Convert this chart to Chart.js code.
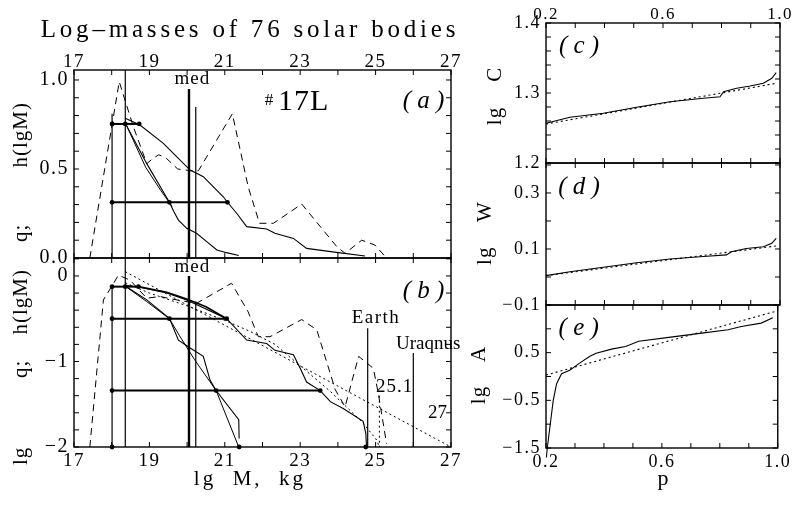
<!DOCTYPE html>
<html>
<head>
<meta charset="utf-8">
<script src="https://cdn.jsdelivr.net/npm/chart.js@4.4.0/dist/chart.umd.min.js"></script>
<style>
  body { margin: 0; background: #fff; width: 792px; height: 505px; position: relative; overflow: hidden; }
  canvas { position: absolute; left: 0; top: 0; }
  .t { position: absolute; font-family: 'Liberation Serif', serif; white-space: pre; line-height: 1; color: #000; }
  .c { transform: translateX(-50%); }
  .r { transform: translate(-50%, -50%) rotate(-90deg); }
</style>
</head>
<body>
<canvas id="pa" width="792" height="505"></canvas>
<canvas id="pb" width="792" height="505"></canvas>
<canvas id="pc" width="792" height="505"></canvas>
<canvas id="pd" width="792" height="505"></canvas>
<canvas id="pe" width="792" height="505"></canvas>

<div class="t c" style="left:250px;top:16px;font-size:25px;letter-spacing:3.8px">Log–masses of 76 solar bodies</div>
<div class="t c" style="left:250px;top:468px;font-size:21px;letter-spacing:3px">lg  M,  kg</div>
<div class="t c" style="left:663px;top:467px;font-size:22px">p</div>
<div class="t r" style="left:20px;top:172px;font-size:21px;letter-spacing:1px">q;         h(lgM)</div>
<div class="t r" style="left:20px;top:367px;font-size:21px;letter-spacing:1px">lg           q;    h(lgM)</div>
<div class="t r" style="left:494px;top:96px;font-size:21px;letter-spacing:1px">lg    C</div>
<div class="t r" style="left:484px;top:233px;font-size:21px;letter-spacing:1px">lg    W</div>
<div class="t r" style="left:478px;top:375px;font-size:21px;letter-spacing:1px">lg    A</div>

<script>
Chart.defaults.font.family = "'Liberation Serif', serif";
Chart.defaults.color = '#000';

// tick labels
const massTicks = [17, 19, 21, 23, 25, 27];
const qTicks = [0, 0.5, 1.0];
const lgqTicks = [0, -1, -2];
const pTicks = [0.2, 0.6, 1.0];
const cTicks = [1.2, 1.3, 1.4];
const wTicks = [-0.1, 0.1, 0.3];
const aTicks = [-1.5, -0.5, 0.5];

// (a) h and q against lg M
const hA = [[17.42, 0], [18.2, 0.99], [18.57, 0.74], [18.93, 0.53], [19.1, 0.56], [19.25, 0.58], [19.45, 0.56],
  [19.75, 0.5], [20.1, 0.49], [20.3, 0.49], [21.2, 0.81], [21.62, 0.4], [21.92, 0.195], [22.29, 0.195],
  [23.04, 0.303], [23.97, 0.064], [24.19, 0.026], [24.63, 0.1], [24.98, 0.073], [25.29, 0]];
const qSteepA = [[18.36, 0.757], [18.93, 0.53], [19.53, 0.313], [19.65, 0.26], [19.77, 0.213], [19.99, 0.167],
  [20.25, 0.139], [20.52, 0.092], [20.79, 0.045], [21.05, 0.03], [21.37, 0.014]];
const qFitA = [[18.36, 0.76], [18.9, 0.51], [19.3, 0.38], [19.6, 0.29]];
const qFlatA = [[18.36, 0.785], [18.75, 0.747], [19.37, 0.644], [20.08, 0.494], [20.43, 0.457], [20.96, 0.344],
  [21.07, 0.313], [21.32, 0.25], [21.58, 0.176], [22.11, 0.163], [22.33, 0.139], [22.82, 0.11], [23.17, 0.054],
  [24.01, 0.03], [24.72, 0.011]];
const levelsA = [[0.753, 18.01, 18.73], [0.313, 18.01, 21.07]];
const levelDotsA = [[18.01, 0.753], [18.36, 0.753], [18.73, 0.753], [18.01, 0.313], [19.53, 0.313], [21.07, 0.313]];
const marksA = [[18.01, 0, 0.81], [18.36, 0, 1.056], [20.23, 0, 0.848]];
const medA = [20.05, 0, 0.949];

// (b) lg h and lg q against lg M
const hB = [[17.42, -2], [17.78, -0.28], [18.18, 0.01], [18.49, -0.05], [18.93, -0.26], [19.28, -0.24], [19.6, -0.27],
  [20.25, -0.32], [21.18, -0.085], [21.62, -0.42], [21.89, -0.71], [22.2, -0.71], [23.04, -0.51], [23.44, -0.63],
  [23.93, -1.33], [24.19, -1.53], [24.55, -0.94], [24.94, -1.08], [25.07, -1.37], [25.29, -1.96]];
const qSteepB = [[18.36, -0.117], [18.93, -0.28], [19.53, -0.495], [19.77, -0.75], [20.04, -0.83], [20.43, -0.94],
  [20.61, -1.22], [20.77, -1.34], [21.37, -1.68], [21.38, -1.9]];
const qFitB = [[18.36, -0.12], [18.93, -0.3], [19.53, -0.5], [19.8, -0.7], [20.2, -0.98], [20.77, -1.34], [21.37, -2.0]];
const qFlatB = [[18.36, -0.11], [18.71, -0.13], [19.46, -0.2], [19.99, -0.28], [21.05, -0.5], [21.58, -0.75],
  [22.11, -0.79], [22.33, -0.87], [22.82, -0.92], [23.0, -1.08], [23.17, -1.24], [23.53, -1.34], [23.8, -1.47],
  [24.14, -1.55], [24.67, -1.7], [24.74, -1.84], [24.76, -2.0]];
const qBoldB = [[18.71, -0.125], [19.46, -0.19], [19.99, -0.27], [20.5, -0.36], [21.05, -0.5]];
const fitLineB = [[18.36, 0.05], [27, -2.0]];
const fitCurveB = [[18.36, -0.08], [19.0, -0.2], [20.0, -0.35], [21.0, -0.52], [21.68, -0.65], [22.33, -0.8],
  [23.0, -1.05], [23.8, -1.35], [24.67, -1.72], [25.03, -1.92], [25.1, -2.0]];
const cutB = [[25.1, -1.4], [25.1, -2.0]];
const levelsB = [[-0.125, 18.01, 18.71], [-0.5, 18.01, 21.05], [-1.34, 18.01, 23.53]];
const levelDotsB = [[18.01, -0.125], [18.36, -0.125], [18.71, -0.125], [18.01, -0.5], [19.53, -0.5], [21.05, -0.5],
  [18.01, -1.34], [20.77, -1.34], [23.53, -1.34], [18.01, -2], [21.38, -2], [24.74, -2]];
const marksB = [[18.01, -2, -0.125], [18.36, -2, 0.21], [20.23, -2, -0.3], [24.79, -2, -0.61], [26.0, -2, -0.9]];
const medB = [20.05, -2, 0];

// (c), (d), (e) against p
const cSolid = [[0.2, 1.2567], [0.282, 1.2653], [0.396, 1.271], [0.51, 1.2796], [0.624, 1.2876], [0.738, 1.2924],
  [0.795, 1.2947], [0.807, 1.3019], [0.852, 1.3067], [0.898, 1.31], [0.943, 1.3139], [0.972, 1.321], [0.987, 1.329]];
const cDot = [[0.2, 1.2557], [0.99, 1.314]];
const wSolid = [[0.2, 0.005], [0.282, 0.019], [0.396, 0.035], [0.51, 0.051], [0.624, 0.064], [0.738, 0.073],
  [0.817, 0.079], [0.834, 0.09], [0.885, 0.102], [0.943, 0.108], [0.972, 0.12], [0.987, 0.138]];
const wDot = [[0.2, 0.005], [0.99, 0.111]];
const aSolid = [[0.2015, -1.7], [0.2044, -1.5], [0.2137, -1.05], [0.225, -0.5], [0.2366, -0.15], [0.2537, 0.06],
  [0.282, 0.13], [0.316, 0.28], [0.35, 0.42], [0.373, 0.49], [0.43, 0.58], [0.475, 0.63], [0.52, 0.74],
  [0.624, 0.82], [0.738, 0.91], [0.829, 0.98], [0.874, 1.05], [0.943, 1.12], [0.983, 1.23]];
const aDot = [[0.2, 0.03], [1.0, 1.38]];

const DASH = [7, 5];
const DOT = [2, 3];

const pts = a => a.map(([x, y]) => ({x, y}));
function curve(a, w, dash, clip) {
  return {data: pts(a), showLine: true, pointRadius: 0, borderColor: '#000', borderWidth: w || 1,
    borderDash: dash || [], clip: clip === undefined ? 2 : clip};
}
function dots(a) {
  return {data: pts(a), showLine: false, pointRadius: 2.4, pointBackgroundColor: '#000', pointBorderWidth: 0, clip: 4};
}
const vlines = (a, w) => a.map(([x, y0, y1]) => curve([[x, y0], [x, y1]], w));
const hlines = (a, w) => a.map(([y, x0, x1]) => curve([[x0, y], [x1, y]], w));

// wider spacing for the tick labels, like the old plotter font
const spacing = {
  id: 'spacing',
  beforeDraw(chart) { chart.ctx.letterSpacing = '1.5px'; }
};

// frame with inward tick marks on all four sides
const frame = {
  id: 'frame',
  afterDatasetsDraw(chart, args, o) {
    const {ctx, chartArea: a, scales: {x, y}} = chart;
    const at = (s, step) => {
      const out = [];
      for (let i = Math.ceil(s.min / step - 1e-6); i * step <= s.max + 1e-9; i++) out.push(s.getPixelForValue(i * step));
      return out;
    };
    ctx.save();
    ctx.strokeStyle = '#000';
    ctx.lineWidth = 1.4;
    ctx.strokeRect(a.left, a.top, a.right - a.left, a.bottom - a.top);
    ctx.lineWidth = 1;
    ctx.beginPath();
    for (const px of at(x, o.xStep)) {
      ctx.moveTo(px, a.bottom); ctx.lineTo(px, a.bottom - o.len);
      ctx.moveTo(px, a.top); ctx.lineTo(px, a.top + o.len);
    }
    for (const py of at(y, o.yStep)) {
      ctx.moveTo(a.left, py); ctx.lineTo(a.left + o.len, py);
      ctx.moveTo(a.right, py); ctx.lineTo(a.right - o.len, py);
    }
    ctx.stroke();
    ctx.restore();
  }
};

// text placed in data coordinates
const notes = {
  id: 'notes',
  afterDatasetsDraw(chart, args, o) {
    const {ctx, scales: {x, y}} = chart;
    ctx.save();
    ctx.fillStyle = '#000';
    ctx.textBaseline = 'middle';
    for (const n of o.items) {
      ctx.font = n.f;
      ctx.textAlign = n.al || 'center';
      ctx.letterSpacing = n.ls || '0px';
      ctx.fillText(n.s, x.getPixelForValue(n.x), y.getPixelForValue(n.y));
    }
    ctx.restore();
  }
};

function labelAxis(vals, dec, size, pad, dim, box) {
  return {
    bounds: 'data',
    grid: {display: false, drawTicks: false},
    border: {display: false},
    afterBuildTicks: s => { s.ticks = vals.map(v => ({value: v})); },
    afterFit: s => { s[dim] = box; },
    ticks: {font: {size}, color: '#000', padding: pad, maxRotation: 0, autoSkip: false,
      callback: v => v.toFixed(dec).replace('-', '\u2212')}
  };
}

function panel(id, area, xr, yr, ax, datasets, items, steps) {
  const [L, T, R, B] = area;
  const pad = {left: L, top: T, right: 792 - R, bottom: 505 - B};
  const scales = {
    x: {type: 'linear', min: xr[0], max: xr[1], display: false},
    y: {type: 'linear', min: yr[0], max: yr[1], display: false}
  };
  if (ax.left) {
    scales.y = Object.assign({type: 'linear', min: yr[0], max: yr[1], position: 'left'},
      labelAxis(ax.left.v, ax.left.d, ax.left.fs, 5, 'width', 44));
    pad.left -= 44;
  }
  if (ax.bottom) {
    scales.x = Object.assign({type: 'linear', min: xr[0], max: xr[1], position: 'bottom'},
      labelAxis(ax.bottom.v, ax.bottom.d, ax.bottom.fs, 3, 'height', 24));
    pad.bottom -= 24;
  }
  if (ax.top) {
    scales.xt = Object.assign({type: 'linear', min: xr[0], max: xr[1], position: 'top'},
      labelAxis(ax.top.v, ax.top.d, ax.top.fs, ax.top.p, 'height', 22));
    pad.top -= 22;
  }
  return new Chart(document.getElementById(id), {
    type: 'scatter',
    data: {datasets},
    options: {
      responsive: false,
      animation: false,
      devicePixelRatio: 1,
      layout: {padding: pad},
      scales,
      plugins: {
        legend: {display: false},
        tooltip: {enabled: false},
        frame: Object.assign({len: 5}, steps),
        notes: {items}
      }
    },
    plugins: [spacing, frame, notes]
  });
}

const F = "'Liberation Serif', serif";

panel('pa', [74, 70, 451, 258], [17, 27], [0, 1.056],
  {left: {v: qTicks, d: 1, fs: 20}, top: {v: massTicks, d: 0, fs: 19, p: -3}},
  [
    curve(hA, 1, DASH),
    curve(qSteepA, 1.1), curve(qFitA, 1), curve(qFlatA, 1.1),
    ...hlines(levelsA, 2), dots(levelDotsA),
    ...vlines(marksA, 1.2), curve([[medA[0], medA[1]], [medA[0], medA[2]]], 2.4)
  ],
  [
    {s: 'med', x: 20.14, y: 1.006, f: '19px ' + F, ls: '1px'},
    {s: '#', x: 22.17, y: 0.885, f: '17px ' + F},
    {s: '17L', x: 22.41, y: 0.875, f: '30px ' + F, al: 'left', ls: '1px'},
    {s: '( a )', x: 26.27, y: 0.882, f: 'italic 25px ' + F}
  ],
  {xStep: 1, yStep: 0.1});

panel('pb', [74, 258, 451, 447], [17, 27], [-2, 0.21],
  {left: {v: lgqTicks, d: 0, fs: 20}, bottom: {v: massTicks, d: 0, fs: 19}},
  [
    curve(hB, 1, DASH),
    curve(fitLineB, 1, DOT), curve(fitCurveB, 1, DOT), curve(cutB, 1, DOT),
    curve(qSteepB, 1.1), curve(qFitB, 1), curve(qFlatB, 1.1), curve(qBoldB, 1.7),
    ...hlines(levelsB, 2), dots(levelDotsB),
    ...vlines(marksB, 1.2), curve([[medB[0], medB[1]], [medB[0], medB[2]]], 2.4)
  ],
  [
    {s: 'med', x: 20.14, y: 0.105, f: '19px ' + F, ls: '1px'},
    {s: '( b )', x: 26.27, y: -0.175, f: 'italic 25px ' + F},
    {s: 'Earth', x: 25.01, y: -0.488, f: '19px ' + F, ls: '1.5px'},
    {s: 'Uraqnus', x: 25.54, y: -0.795, f: '19px ' + F, al: 'left'},
    {s: '25.1', x: 25.01, y: -1.295, f: '19px ' + F, al: 'left', ls: '1px'},
    {s: '27', x: 26.39, y: -1.6, f: '19px ' + F, al: 'left'}
  ],
  {xStep: 1, yStep: 0.2});

panel('pc', [546, 23, 780, 163], [0.2, 1.0], [1.2, 1.4],
  {left: {v: cTicks, d: 1, fs: 18}, top: {v: pTicks, d: 1, fs: 17, p: -2}},
  [curve(cSolid, 1.1), curve(cDot, 1.1, DOT)],
  [{s: '( c )', x: 0.313, y: 1.367, f: 'italic 25px ' + F}],
  {xStep: 0.1, yStep: 0.02});

panel('pd', [546, 163, 780, 305], [0.2, 1.0], [-0.1, 0.407],
  {left: {v: wTicks, d: 1, fs: 18}},
  [curve(wSolid, 1.1), curve(wDot, 1.1, DOT)],
  [{s: '( d )', x: 0.313, y: 0.32, f: 'italic 25px ' + F}],
  {xStep: 0.1, yStep: 0.1});

panel('pe', [546, 305, 780, 448], [0.2, 1.0], [-1.5, 1.5],
  {left: {v: aTicks, d: 1, fs: 18}, bottom: {v: pTicks, d: 1, fs: 18}},
  [curve(aSolid, 1.1, [], 12), curve(aDot, 1.1, DOT)],
  [{s: '( e )', x: 0.313, y: 1.005, f: 'italic 25px ' + F}],
  {xStep: 0.1, yStep: 0.5});
</script>
</body>
</html>
